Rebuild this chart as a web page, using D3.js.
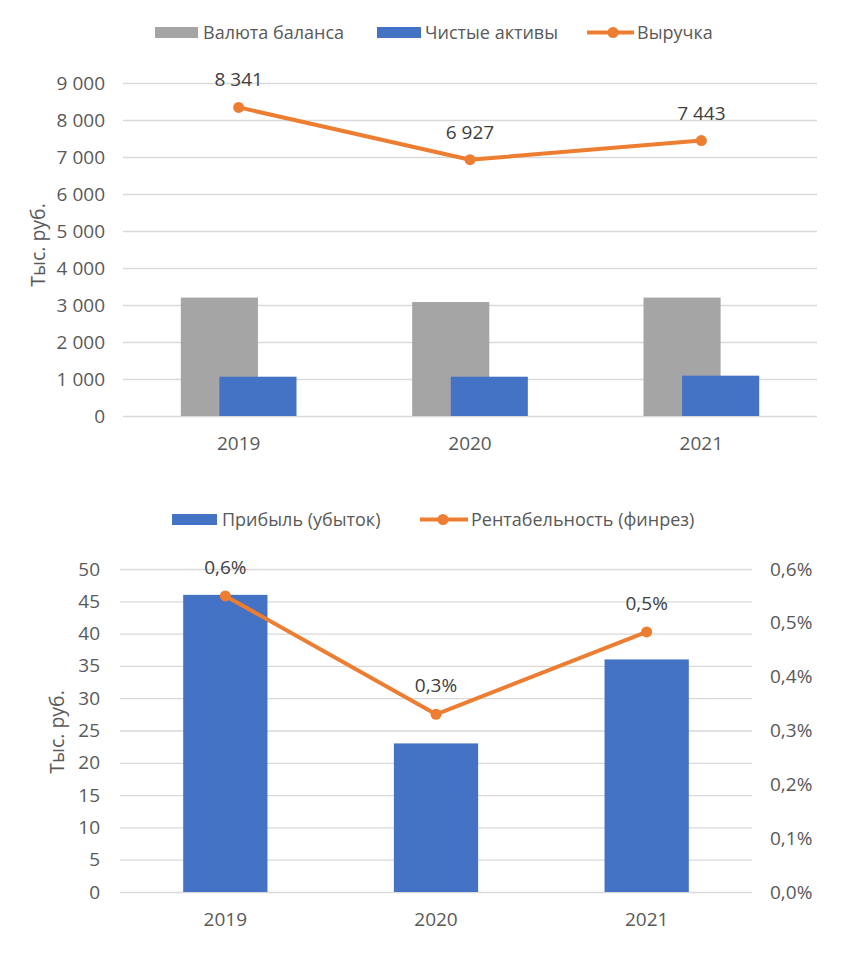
<!DOCTYPE html>
<html><head><meta charset="utf-8">
<script src="https://cdn.jsdelivr.net/npm/d3@7"></script>
<style>
body{margin:0;background:#fff;}
svg text{font-family:"Open Sans","Noto Sans",sans-serif;}
</style></head>
<body><svg id="c" width="860" height="971"></svg>
<script>
const years = ["2019","2020","2021"];
const balance = [3200, 3080, 3200];
const netAssets = [1062, 1062, 1090];
const revenue = [8341, 6927, 7443];
const topTicks = [0,1000,2000,3000,4000,5000,6000,7000,8000,9000];

const profit = [46, 23, 36];
const profitability = [0.0055, 0.0033, 0.00483];
const profitabilityLabels = ["0,6%","0,3%","0,5%"];
const leftTicks = [0,5,10,15,20,25,30,35,40,45,50];
const rightTicks = [0,0.001,0.002,0.003,0.004,0.005,0.006];

const loc = d3.formatLocale({decimal:",", thousands:"\u00a0", grouping:[3], currency:["",""]});
const fmtN = loc.format(",d");
const fmtP = loc.format(".1%");

const GRAY="#a5a5a5", BLUE="#4472c4", ORANGE="#ed7d31", GRID="#d9d9d9", AX="#595959", LBL="#404040";
const svg = d3.select("#c");
const FS = 18, FD = 19, FT = 19.5;

// ---------- TOP CHART ----------
{
  const x = d3.scaleBand().domain(years).range([123, 817]).padding(0);
  const y = d3.scaleLinear().domain([0, 9000]).range([416, 83]);
  const g = svg.append("g");
  const step = x.bandwidth();
  const bw = step/3;
  g.append("g").attr("transform","translate(123,0)")
    .call(d3.axisLeft(y).tickValues(topTicks).tickSize(-(817-123)).tickFormat(fmtN).tickPadding(18))
    .call(a=>a.select(".domain").remove())
    .call(a=>a.selectAll("line").attr("stroke",GRID).attr("stroke-width",1.3))
    .call(a=>a.selectAll("text").attr("fill",AX).attr("font-size",FD));
  g.selectAll(".gb").data(years).join("rect")
    .attr("x",d=>x(d)+step/2-step/4).attr("width",bw)
    .attr("y",(d,i)=>y(balance[i])).attr("height",(d,i)=>y(0)-y(balance[i]))
    .attr("fill",GRAY);
  g.selectAll(".bb").data(years).join("rect")
    .attr("x",d=>x(d)+step/2+step/4-bw).attr("width",bw)
    .attr("y",(d,i)=>y(netAssets[i])).attr("height",(d,i)=>y(0)-y(netAssets[i]))
    .attr("fill",BLUE);
  g.append("g").attr("transform","translate(0,416)")
    .call(d3.axisBottom(x).tickSize(0).tickPadding(21))
    .call(a=>a.select(".domain").remove())
    .call(a=>a.selectAll("text").attr("fill",AX).attr("font-size",FD));
  const line = d3.line().x((d,i)=>x(years[i])+step/2).y(d=>y(d));
  g.append("path").datum(revenue).attr("d",line).attr("fill","none")
    .attr("stroke",ORANGE).attr("stroke-width",4).attr("stroke-linejoin","round");
  g.selectAll(".pt").data(revenue).join("circle")
    .attr("cx",(d,i)=>x(years[i])+step/2).attr("cy",d=>y(d)).attr("r",5.5).attr("fill",ORANGE);
  g.selectAll(".lb").data(revenue).join("text")
    .attr("x",(d,i)=>x(years[i])+step/2).attr("y",d=>y(d)-21)
    .attr("text-anchor","middle").attr("fill",LBL).attr("font-size",FD).text(d=>fmtN(d));
  g.append("text").attr("transform","translate(45,245) rotate(-90)").attr("text-anchor","middle")
    .attr("fill",AX).attr("font-size",FT).text("Тыс. руб.");
  const lg = g.append("g");
  lg.append("rect").attr("x",155).attr("y",27).attr("width",43).attr("height",11).attr("fill",GRAY);
  lg.append("text").attr("x",203).attr("y",38.5).attr("fill",AX).attr("font-size",FS).text("Валюта баланса");
  lg.append("rect").attr("x",377).attr("y",27).attr("width",44).attr("height",11).attr("fill",BLUE);
  lg.append("text").attr("x",425).attr("y",38.5).attr("fill",AX).attr("font-size",FS).text("Чистые активы");
  lg.append("line").attr("x1",587).attr("x2",634).attr("y1",32.5).attr("y2",32.5).attr("stroke",ORANGE).attr("stroke-width",4);
  lg.append("circle").attr("cx",613).attr("cy",32.5).attr("r",5.5).attr("fill",ORANGE);
  lg.append("text").attr("x",637).attr("y",38.5).attr("fill",AX).attr("font-size",FS).text("Выручка");
}

// ---------- BOTTOM CHART ----------
{
  const x = d3.scaleBand().domain(years).range([120, 752]).padding(0);
  const y = d3.scaleLinear().domain([0, 50]).range([892, 569]);
  const y2 = d3.scaleLinear().domain([0, 0.006]).range([892, 569]);
  const g = svg.append("g");
  const step = x.bandwidth();
  const bw = step*0.4;
  g.append("g").attr("transform","translate(120,0)")
    .call(d3.axisLeft(y).tickValues(leftTicks).tickSize(-(752-120)).tickPadding(20))
    .call(a=>a.select(".domain").remove())
    .call(a=>a.selectAll("line").attr("stroke",GRID).attr("stroke-width",1.3))
    .call(a=>a.selectAll("text").attr("fill",AX).attr("font-size",FD));
  g.append("g").attr("transform","translate(752,0)")
    .call(d3.axisRight(y2).tickValues(rightTicks).tickSize(0).tickPadding(18).tickFormat(fmtP))
    .call(a=>a.select(".domain").remove())
    .call(a=>a.selectAll("text").attr("fill",AX).attr("font-size",FD));
  g.selectAll(".pb").data(years).join("rect")
    .attr("x",d=>x(d)+step/2-bw/2).attr("width",bw)
    .attr("y",(d,i)=>y(profit[i])).attr("height",(d,i)=>y(0)-y(profit[i]))
    .attr("fill",BLUE);
  g.append("g").attr("transform","translate(0,892)")
    .call(d3.axisBottom(x).tickSize(0).tickPadding(21))
    .call(a=>a.select(".domain").remove())
    .call(a=>a.selectAll("text").attr("fill",AX).attr("font-size",FD));
  const line = d3.line().x((d,i)=>x(years[i])+step/2).y(d=>y2(d));
  g.append("path").datum(profitability).attr("d",line).attr("fill","none")
    .attr("stroke",ORANGE).attr("stroke-width",4).attr("stroke-linejoin","round");
  g.selectAll(".pt").data(profitability).join("circle")
    .attr("cx",(d,i)=>x(years[i])+step/2).attr("cy",d=>y2(d)).attr("r",5.5).attr("fill",ORANGE);
  g.selectAll(".lb").data(profitability).join("text")
    .attr("x",(d,i)=>x(years[i])+step/2).attr("y",d=>y2(d)-22)
    .attr("text-anchor","middle").attr("fill",LBL).attr("font-size",FD).text((d,i)=>profitabilityLabels[i]);
  g.append("text").attr("transform","translate(64,732) rotate(-90)").attr("text-anchor","middle")
    .attr("fill",AX).attr("font-size",FT).text("Тыс. руб.");
  const lg = g.append("g");
  lg.append("rect").attr("x",172).attr("y",514).attr("width",45).attr("height",11).attr("fill",BLUE);
  lg.append("text").attr("x",222).attr("y",525.5).attr("fill",AX).attr("font-size",FS).text("Прибыль (убыток)");
  lg.append("line").attr("x1",420).attr("x2",468).attr("y1",519.5).attr("y2",519.5).attr("stroke",ORANGE).attr("stroke-width",4);
  lg.append("circle").attr("cx",443).attr("cy",519.5).attr("r",5.5).attr("fill",ORANGE);
  lg.append("text").attr("x",471).attr("y",525.5).attr("fill",AX).attr("font-size",FS).text("Рентабельность (финрез)");
}
</script></body></html>
